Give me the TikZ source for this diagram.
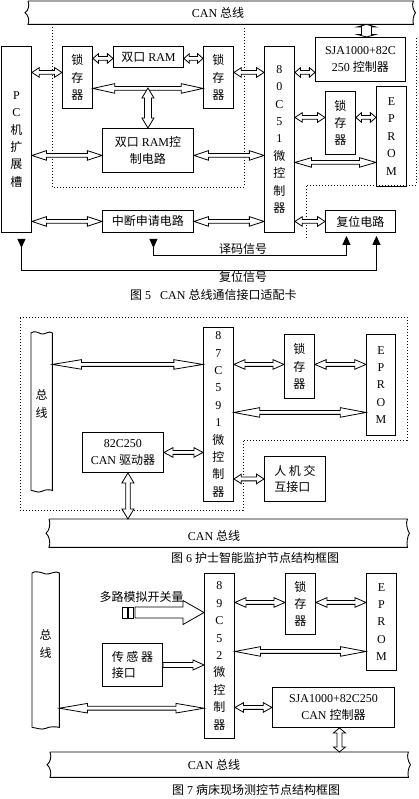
\documentclass[tikz,border=0pt]{standalone}
\usepackage{fontspec}
\setmainfont{Liberation Serif}
\newfontfamily\cjk{Noto Sans CJK SC}
\usetikzlibrary{calc,arrows.meta}
\newcommand\zh[1]{{\cjk #1}}
\tikzset{
  box/.style={draw, line width=0.9pt, inner sep=0pt, anchor=north west, align=center, font=\fontsize{12}{17.4}\selectfont},
  zbox/.style={box, font=\fontsize{12}{17.4}\selectfont\cjk},
  box2/.style={box, font=\fontsize{12}{16.5}\selectfont},
  zbox2/.style={box, font=\fontsize{12}{16.5}\selectfont\cjk},
  busn/.style={inner sep=0pt, anchor=north west},
  bline/.style={line width=0.9pt},
  arw/.style={line width=0.8pt, fill=white, line join=miter},
  dots/.style={line width=0.7pt, dash pattern=on 0.7pt off 2.3pt},
  sig/.style={line width=0.9pt},
  txt/.style={inner sep=0pt, font=\fontsize{12}{16.5}\selectfont, align=center},
  ztxt/.style={inner sep=0pt, font=\fontsize{12}{17.5}\selectfont\cjk, align=center},
  tri/.tip={Triangle[length=9pt,width=8pt]},
  rtri/.tip={Triangle[reversed,length=9pt,width=8pt]}
}
% horizontal double arrow: #2 left anchor, #3 right anchor, #4 y reference
\newcommand\hdbl[4][4.8pt]{%
  \draw[arw] let \p1=#2, \p2=#3, \p3=#4, \n1={0.18*(\x2-\x1)+2pt} in
    (\x1,\y3) -- (\x1+\n1,\y3+#1) -- (\x1+\n1,\y3+1.9pt) -- (\x2-\n1,\y3+1.9pt)
    -- (\x2-\n1,\y3+#1) -- (\x2,\y3) -- (\x2-\n1,\y3-#1) -- (\x2-\n1,\y3-1.9pt)
    -- (\x1+\n1,\y3-1.9pt) -- (\x1+\n1,\y3-#1) -- cycle;}
% vertical double arrow: #1 top, #2 bottom, #3 x reference, #4 head length, #5 head half, #6 shaft half
\newcommand\vdbl[6]{%
  \draw[arw] let \p1=#1, \p2=#2, \p3=#3 in
    (\x3,\y1) -- (\x3+#5,\y1-#4) -- (\x3+#6,\y1-#4) -- (\x3+#6,\y2+#4) -- (\x3+#5,\y2+#4)
    -- (\x3,\y2) -- (\x3-#5,\y2+#4) -- (\x3-#6,\y2+#4) -- (\x3-#6,\y1-#4) -- (\x3-#5,\y1-#4) -- cycle;}
% single block arrow to the right
\newcommand\sarr[6]{%
  \draw[arw] let \p1=#1, \p2=#2, \p3=#3 in
    (\x1,\y3+#6) -- (\x2-#4,\y3+#6) -- (\x2-#4,\y3+#5) -- (\x2,\y3) -- (\x2-#4,\y3-#5)
    -- (\x2-#4,\y3-#6) -- (\x1,\y3-#6) -- cycle;}
\newcommand\busoutline[1]{%
  \draw[bline] (#1.north west) -- (#1.north east)
    .. controls +(-2,4) and +(-2,-3) .. ($(#1.east)+(2,0)$)
    .. controls +(-2,3) and +(-1,-4) .. (#1.south east)
    -- (#1.south west)
    .. controls +(2,-4) and +(3,2) .. ($(#1.west)+(-3,0)$)
    .. controls +(3,-2) and +(2,5) .. (#1.north west);}
\newcommand\vbusoutline[1]{%
  \draw[bline] (#1.south west) -- (#1.north west)
    .. controls +(3,-3) and +(-3,-1) .. ($(#1.north)+(0,1)$)
    .. controls +(3,1) and +(-3,-3) .. (#1.north east)
    -- (#1.south east)
    .. controls +(-4,-1) and +(4,-2) .. ($(#1.south)+(0,1)$)
    .. controls +(-4,2) and +(3,0) .. (#1.south west);}
\begin{document}
\begin{tikzpicture}[x=1pt,y=-1pt]
\useasboundingbox (0,0) rectangle (418,799);
% ---------------- Figure 5 ----------------
\draw[dots] (52,27) -- (52,187) -- (244,187) -- (244,27);
\draw[dots] (306,238) -- (306,185) -- (416,185) -- (416,38);
\node[busn, minimum width=385, minimum height=23] (can5) at (28,1) {};
\busoutline{can5}
\node[txt] (can5t) at (218,13) {CAN \zh{总线}};
\node[box, minimum width=30, minimum height=186] (pc) at (1,46) {P\\C\\\zh{机}\\\zh{扩}\\\zh{展}\\\zh{槽}};
\node[zbox, minimum width=30, minimum height=62] (lockA) at (62,46) {锁\\存\\器};
\node[box2, minimum width=70, minimum height=21] (ram) at (113,46) {\zh{双口} RAM};
\node[zbox, minimum width=30, minimum height=62] (lockB) at (203,46) {锁\\存\\器};
\node[box2, minimum width=91, minimum height=44] (ramctl) at (102,128) {\zh{双口} RAM\zh{控}\\\zh{制电路}};
\node[box, minimum width=30, minimum height=186] (mcu5) at (264,46) {8\\0\\C\\5\\1\\\zh{微}\\\zh{控}\\\zh{制}\\\zh{器}};
\node[box2, minimum width=90, minimum height=44] (sja5) at (315,37) {SJA1000+82C\\250 \zh{控制器}};
\node[zbox, minimum width=30, minimum height=63] (lockC) at (325,91) {锁\\存\\器};
\node[box, minimum width=30, minimum height=100] (eprom5) at (376,86) {E\\P\\R\\O\\M};
\node[zbox2, minimum width=91, minimum height=22] (irq) at (102,210) {中断申请电路};
\node[zbox2, minimum width=70, minimum height=22] (rst) at (325,210) {复位电路};
\hdbl{(pc.east)}{(lockA.west)}{($(lockA.west)+(0,-5)$)}
\hdbl{(lockA.east)}{(ram.west)}{($(ram.west)+(0,1.5)$)}
\hdbl{(ram.east)}{(lockB.west)}{($(ram.east)+(0,1.5)$)}
\hdbl{(lockA.east)}{(lockB.west)}{($(lockA.east)+(0,11)$)}
\vdbl{($(ramctl.north)+(0,-40)$)}{(ramctl.north)}{(ramctl.north)}{10pt}{6pt}{3.5pt}
\hdbl{(pc.east)}{(ramctl.west)}{($(ramctl.west)+(0,5)$)}
\hdbl{(ramctl.east)}{(mcu5.west)}{($(ramctl.east)+(0,5)$)}
\hdbl{(lockB.east)}{(mcu5.west)}{($(lockB.east)+(0,-5)$)}
\hdbl{(mcu5.east)}{(sja5.west)}{($(sja5.west)+(0,13)$)}
\hdbl{(mcu5.east)}{(lockC.west)}{($(lockC.west)+(0,-5.5)$)}
\hdbl{(lockC.east)}{(eprom5.west)}{($(lockC.east)+(0,-5.5)$)}
\hdbl{(mcu5.east)}{(eprom5.west)}{($(eprom5.west)+(0,26)$)}
\hdbl{(pc.east)}{(irq.west)}{(irq.west)}
\hdbl{(irq.east)}{(mcu5.west)}{(irq.east)}
\hdbl{(mcu5.east)}{(rst.west)}{(rst.west)}
\vdbl{(can5.south)}{(sja5.north)}{($(sja5.north)+(6,0)$)}{2.5pt}{9pt}{5pt}
\draw[sig, {rtri}-{tri}] ($(irq.south)+(5.5,6)$) |- ($(rst.south)+(-14,23)$) -- ($(rst.south)+(-14,3)$);
\draw[sig, {rtri}-{tri}] ($(pc.south)+(5,6)$) |- ($(rst.south)+(16,38)$) -- ($(rst.south)+(16,3)$);
\node[ztxt] (sig1) at (243,249) {译码信号};
\node[ztxt] (sig2) at (243,277) {复位信号};
\node[txt, anchor=west] (cap5) at (130,295) {\zh{图} 5\hspace{9pt}CAN \zh{总线通信接口适配卡}};
% ---------------- Figure 6 ----------------
\draw[dots] (20,317) -- (407,317) -- (407,440) -- (243,440) -- (243,510) -- (20,510) -- cycle;
\node[busn, minimum width=21, minimum height=157] (bus6) at (31,333) {};
\vbusoutline{bus6}
\node[ztxt] (bus6t) at (41.5,404) {总\\线};
\node[box, minimum width=30, minimum height=174] (mcu6) at (203,327) {8\\7\\C\\5\\9\\1\\\zh{微}\\\zh{控}\\\zh{制}\\\zh{器}};
\node[zbox, minimum width=30, minimum height=64] (lock6) at (284,334) {锁\\存\\器};
\node[box, minimum width=29, minimum height=101] (eprom6) at (366,334) {E\\P\\R\\O\\M};
\node[box2, minimum width=81, minimum height=40] (drv) at (82,432) {82C250\\CAN \zh{驱动器}};
\node[zbox2, align=left, minimum width=61, minimum height=45] (hmi) at (264,456) {人 机 交\\互接口};
\node[busn, minimum width=358, minimum height=28] (can6) at (49,519) {};
\busoutline{can6}
\node[txt] (can6t) at (214,536) {CAN \zh{总线}};
\hdbl{(bus6.east)}{(mcu6.west)}{($(mcu6.west)+(0,-50)$)}
\hdbl{(mcu6.east)}{(lock6.west)}{($(lock6.west)+(0,-2)$)}
\hdbl{(lock6.east)}{(eprom6.west)}{($(lock6.east)+(0,-2)$)}
\hdbl{(mcu6.east)}{(eprom6.west)}{($(mcu6.east)+(0,-2)$)}
\hdbl{(drv.east)}{(mcu6.west)}{(drv.east)}
\vdbl{(drv.south)}{(can6.north)}{($(drv.south)+(5,0)$)}{10pt}{6pt}{2.2pt}
\hdbl{(mcu6.east)}{(hmi.west)}{(hmi.west)}
\node[txt, anchor=west] (cap6) at (171,558) {\zh{图} 6 \zh{护士智能监护节点结构框图}};
% ---------------- Figure 7 ----------------
\node[busn, minimum width=27, minimum height=154] (bus7) at (32,573) {};
\vbusoutline{bus7}
\node[ztxt] (bus7t) at (45.5,644) {总\\线};
\node[box, minimum width=30, minimum height=165] (mcu7) at (204,573) {8\\9\\C\\5\\2\\\zh{微}\\\zh{控}\\\zh{制}\\\zh{器}};
\node[zbox, minimum width=30, minimum height=61] (lock7) at (285,573) {锁\\存\\器};
\node[box, minimum width=30, minimum height=97] (eprom7) at (366,573) {E\\P\\R\\O\\M};
\node[zbox2, align=left, minimum width=60, minimum height=43] (sens) at (102,643) {传 感 器\\接口};
\node[box2, minimum width=122, minimum height=40] (sja7) at (272,687) {SJA1000+82C250\\CAN \zh{控制器}};
\node[busn, minimum width=358, minimum height=25] (can7) at (50,752) {};
\busoutline{can7}
\node[txt] (can7t) at (214,765) {CAN \zh{总线}};
\node[ztxt] (muxt) at (141.5,597) {多路模拟开关量};
\coordinate (muxs) at (135,612.5);
\hdbl{(mcu7.east)}{(lock7.west)}{($(lock7.west)+(0,-1.5)$)}
\hdbl{(lock7.east)}{(eprom7.west)}{($(lock7.east)+(0,-1.5)$)}
\hdbl{(mcu7.east)}{(eprom7.west)}{($(mcu7.east)+(0,-4.5)$)}
\sarr{(muxs)}{(mcu7.west)}{(muxs)}{21pt}{12pt}{5.5pt}
\draw[arw] ($(muxs)+(-13,-5.5)$) rectangle ($(muxs)+(-8,5.5)$);
\draw[arw] ($(muxs)+(-7,-5.5)$) rectangle ($(muxs)+(-2,5.5)$);
\sarr{(sens.east)}{(mcu7.west)}{(sens.east)}{11pt}{5pt}{2.5pt}
\hdbl{(bus7.east)}{(mcu7.west)}{($(bus7.east)+(0,58)$)}
\hdbl{(mcu7.east)}{(sja7.west)}{(sja7.west)}
\vdbl{(sja7.south)}{(can7.north)}{($(sja7.south)+(6,0)$)}{5pt}{6pt}{2.5pt}
\node[txt, anchor=west] (cap7) at (172,790) {\zh{图} 7 \zh{病床现场测控节点结构框图}};
\end{tikzpicture}
\end{document}
